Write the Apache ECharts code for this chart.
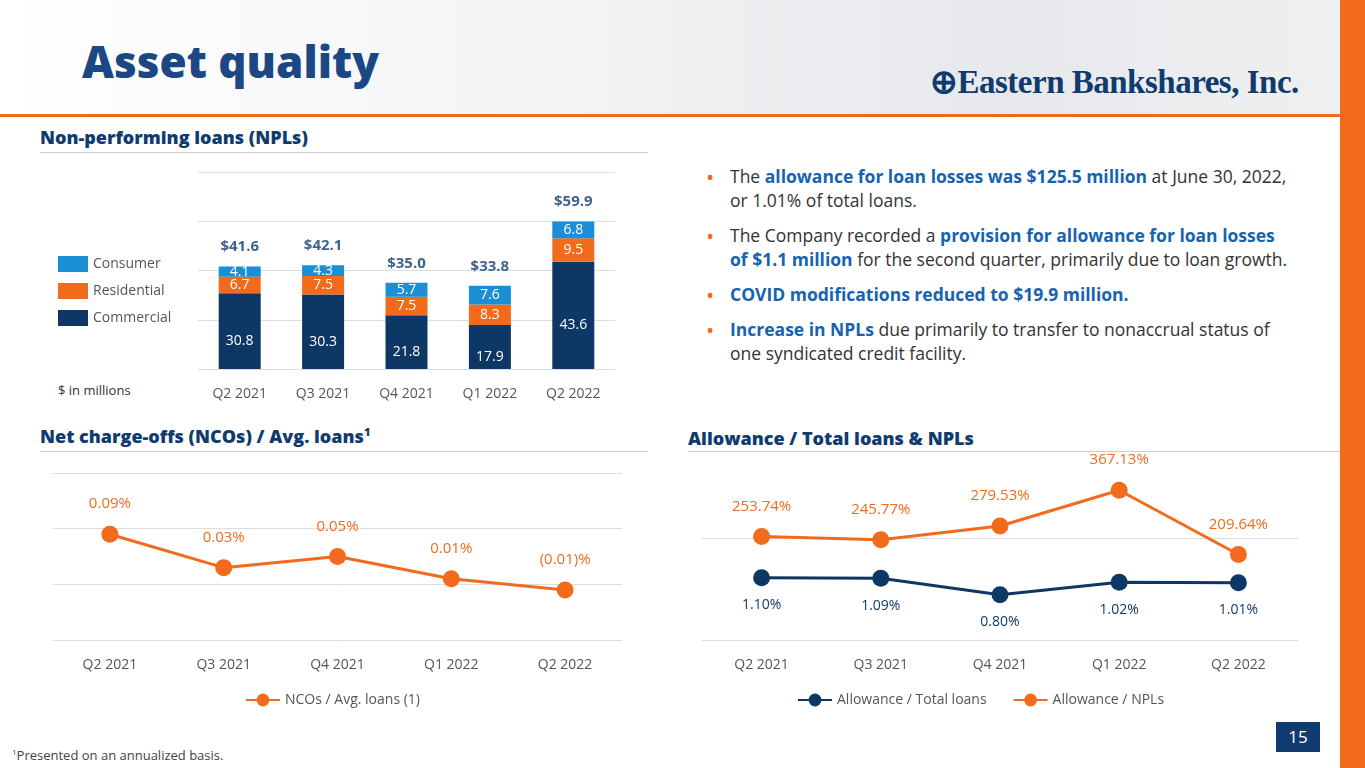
<!DOCTYPE html>
<html><head><meta charset="utf-8">
<script src="https://cdn.jsdelivr.net/npm/echarts@6/dist/echarts.min.js"></script>
<style>
body{margin:0;width:1365px;height:768px;overflow:hidden;background:#fff;font-family:"Open Sans",Lato,sans-serif;position:relative}
#c{position:absolute;left:0;top:0;width:1365px;height:768px}
.abs{position:absolute}
.hdr{font-family:"Open Sans";font-weight:800;font-size:18px;color:#0f3b6e}
.bul{font-family:"Open Sans";font-size:17.5px;color:#333;line-height:24px}
.bul b{color:#1663b0;font-weight:700}
.bul .dot{position:absolute;left:-24px;color:#f26b1d;font-size:22px}
</style></head><body>
<div class="abs" style="left:0;top:0;width:1340px;height:115px;background:linear-gradient(90deg,#fff 0%,#f3f4f6 40%,#e6e8eb 75%,#eef0f2 100%)"></div>
<div class="abs" style="left:1340px;top:0;width:25px;height:768px;background:#f26b1d"></div>
<div class="abs" style="left:0;top:114px;width:1340px;height:3px;background:#f26b1d"></div>
<div class="abs" style="left:82px;top:31px;font-family:'Open Sans';font-weight:800;font-size:44px;color:#1b4784">Asset quality</div>
<div class="abs" style="left:930px;top:62px;font-family:'Liberation Serif';font-weight:bold;font-size:33px;color:#0f3b6e;letter-spacing:-0.5px">&#x2295;Eastern Bankshares, Inc.</div>
<div class="abs hdr" style="left:40px;top:125px">Non-performing loans (NPLs)</div>
<div class="abs" style="left:40px;top:152px;width:608px;height:1px;background:#ccc"></div>
<div class="abs hdr" style="left:40px;top:424px">Net charge-offs (NCOs) / Avg. loans<sup style="font-size:11px">1</sup></div>
<div class="abs" style="left:40px;top:451px;width:608px;height:1px;background:#ccc"></div>
<div class="abs hdr" style="left:688px;top:426px">Allowance / Total loans &amp; NPLs</div>
<div class="abs" style="left:688px;top:451px;width:652px;height:1px;background:#ccc"></div>
<div class="abs bul" style="left:730px;top:164px;width:560px">
<div style="position:relative;margin-bottom:11px"><span class="dot">•</span>The <b>allowance for loan losses was $125.5 million</b> at June 30, 2022, or 1.01% of total loans.</div>
<div style="position:relative;margin-bottom:11px"><span class="dot">•</span>The Company recorded a <b>provision for allowance for loan losses of $1.1 million</b> for the second quarter, primarily due to loan growth.</div>
<div style="position:relative;margin-bottom:11px"><span class="dot">•</span><b>COVID modifications reduced to $19.9 million.</b></div>
<div style="position:relative"><span class="dot">•</span><b>Increase in NPLs</b> due primarily to transfer to nonaccrual status of one syndicated credit facility.</div>
</div>
<div class="abs" style="left:58px;top:381px;font-size:13px;color:#333">$ in millions</div>
<div class="abs" style="left:12px;top:746px;font-size:13px;color:#444"><sup style="font-size:8px">1</sup>Presented on an annualized basis.</div>
<div class="abs" style="left:1276px;top:722px;width:44px;height:30px;background:#0f3b6e;color:#fff;font-size:17px;text-align:center;line-height:30px">15</div>
<div id="c"></div>
<script>
const quarters=['Q2 2021','Q3 2021','Q4 2021','Q1 2022','Q2 2022'];
const commercial=[30.8,30.3,21.8,17.9,43.6];
const residential=[6.7,7.5,7.5,8.3,9.5];
const consumer=[4.1,4.3,5.7,7.6,6.8];
const totals=['$41.6','$42.1','$35.0','$33.8','$59.9'];
const nco=[0.09,0.03,0.05,0.01,-0.01];
const ncoLabels=['0.09%','0.03%','0.05%','0.01%','(0.01)%'];
const allowTotal=[1.10,1.09,0.80,1.02,1.01];
const allowNPL=[253.74,245.77,279.53,367.13,209.64];
const navy='#0d3866',orange='#f26b1d',blue='#1a8fd6';
const c=echarts.init(document.getElementById('c'));
const axisLbl={color:'#555',fontSize:14,margin:18};
const split={show:true,lineStyle:{color:'#ddd'}};
const sumVals=commercial.map((v,i)=>v+residential[i]+consumer[i]);
c.setOption({
 animation:false,
 textStyle:{fontFamily:'Open Sans'},
 legend:[
  {data:[{name:'Consumer'},{name:'Residential'},{name:'Commercial'}],orient:'vertical',left:53,top:251,itemWidth:30,itemHeight:16,itemGap:11,icon:'rect',textStyle:{color:'#555',fontSize:14}},
  {data:['NCOs / Avg. loans (1)'],left:240,top:688,itemWidth:34,itemHeight:16,textStyle:{color:'#555',fontSize:14}},
  {data:['Allowance / Total loans','Allowance / NPLs'],left:792,top:688,itemWidth:34,itemHeight:16,itemGap:26,textStyle:{color:'#555',fontSize:14}}
 ],
 grid:[
  {left:198,width:417,top:172,height:197},
  {left:53,width:569,top:473,height:167},
  {left:702,width:596,top:436,height:204}
 ],
 xAxis:[
  {gridIndex:0,type:'category',data:quarters,axisLine:{show:false},axisTick:{show:false},axisLabel:axisLbl},
  {gridIndex:1,type:'category',data:quarters,axisLine:{show:false},axisTick:{show:false},axisLabel:axisLbl},
  {gridIndex:2,type:'category',data:quarters,axisLine:{show:false},axisTick:{show:false},axisLabel:axisLbl}
 ],
 yAxis:[
  {gridIndex:0,min:0,max:80,interval:20,axisLabel:{show:false},splitLine:split},
  {gridIndex:1,min:-0.1,max:0.2,interval:0.1,axisLabel:{show:false},splitLine:split},
  {gridIndex:2,min:0,max:500,interval:250,axisLabel:{show:false},splitLine:{show:true,lineStyle:{color:['#ddd','#ddd','rgba(0,0,0,0)']}}},
  {gridIndex:2,min:0,max:3.6,axisLabel:{show:false},splitLine:{show:false}}
 ],
 series:[
  {name:'Commercial',type:'bar',stack:'a',barWidth:42,data:commercial,itemStyle:{color:navy},label:{show:true,position:'inside',color:'#fff',fontSize:14,offset:[0,10]}},
  {name:'Residential',type:'bar',stack:'a',data:residential,itemStyle:{color:orange},label:{show:true,position:'inside',color:'#fff',fontSize:14}},
  {name:'Consumer',type:'bar',stack:'a',data:consumer,itemStyle:{color:blue},label:{show:true,position:'inside',color:'#fff',fontSize:14}},
  {type:'scatter',symbolSize:0,data:sumVals,label:{show:true,position:'top',distance:12,formatter:p=>totals[p.dataIndex],color:'#0f3b6e',fontWeight:'bold',fontSize:15},silent:true},
  {name:'NCOs / Avg. loans (1)',type:'line',xAxisIndex:1,yAxisIndex:1,data:nco,color:orange,lineStyle:{width:3,color:orange},symbol:'circle',symbolSize:17,itemStyle:{color:orange},
   label:{show:true,position:'top',distance:14,color:orange,fontSize:15,formatter:p=>ncoLabels[p.dataIndex]}},
  {name:'Allowance / Total loans',type:'line',xAxisIndex:2,yAxisIndex:3,data:allowTotal,color:navy,lineStyle:{width:3,color:navy},symbol:'circle',symbolSize:17,itemStyle:{color:navy},
   label:{show:true,position:'bottom',distance:12,color:'#0f3b6e',fontSize:14,formatter:p=>p.value.toFixed(2)+'%'}},
  {name:'Allowance / NPLs',type:'line',xAxisIndex:2,yAxisIndex:2,data:allowNPL,color:orange,lineStyle:{width:3,color:orange},symbol:'circle',symbolSize:17,itemStyle:{color:orange},
   label:{show:true,position:'top',distance:14,color:orange,fontSize:15,formatter:p=>p.value.toFixed(2)+'%'}}
 ]
});
</script></body></html>
